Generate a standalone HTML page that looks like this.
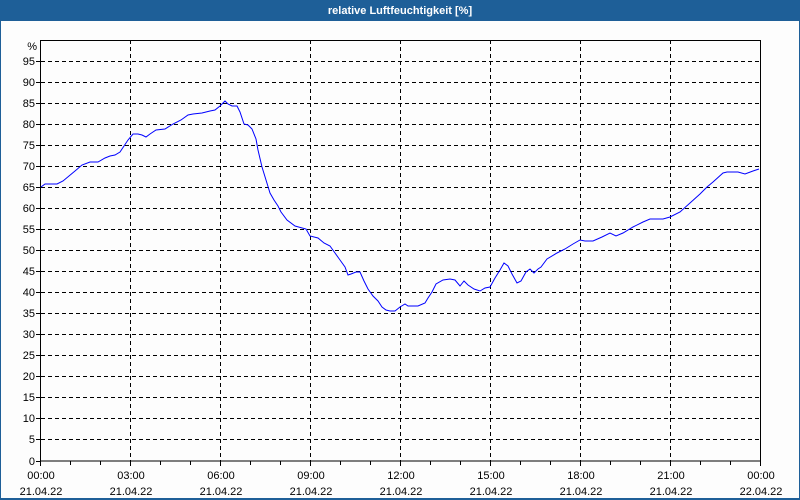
<!DOCTYPE html>
<html><head><meta charset="utf-8"><style>
html,body{margin:0;padding:0;background:#fff}
svg{display:block}
text{font-family:"Liberation Sans",sans-serif;font-size:11px;fill:#000}
</style></head><body>
<svg width="800" height="500" viewBox="0 0 800 500" xmlns="http://www.w3.org/2000/svg">
<rect x="0" y="0" width="800" height="500" fill="#1e5f98"/>
<rect x="1" y="21" width="798" height="477" fill="#fdfdfd"/>
<text x="400" y="14" text-anchor="middle" style="fill:#fff;font-weight:bold">relative Luftfeuchtigkeit [%]</text>
<g stroke="#000" stroke-width="1" stroke-dasharray="4,3" shape-rendering="crispEdges">
<line x1="41" y1="61.5" x2="760" y2="61.5"/><line x1="41" y1="82.5" x2="760" y2="82.5"/><line x1="41" y1="103.5" x2="760" y2="103.5"/><line x1="41" y1="124.5" x2="760" y2="124.5"/><line x1="41" y1="145.5" x2="760" y2="145.5"/><line x1="41" y1="166.5" x2="760" y2="166.5"/><line x1="41" y1="187.5" x2="760" y2="187.5"/><line x1="41" y1="208.5" x2="760" y2="208.5"/><line x1="41" y1="229.5" x2="760" y2="229.5"/><line x1="41" y1="250.5" x2="760" y2="250.5"/><line x1="41" y1="271.5" x2="760" y2="271.5"/><line x1="41" y1="292.5" x2="760" y2="292.5"/><line x1="41" y1="313.5" x2="760" y2="313.5"/><line x1="41" y1="334.5" x2="760" y2="334.5"/><line x1="41" y1="355.5" x2="760" y2="355.5"/><line x1="41" y1="376.5" x2="760" y2="376.5"/><line x1="41" y1="397.5" x2="760" y2="397.5"/><line x1="41" y1="418.5" x2="760" y2="418.5"/><line x1="41" y1="439.5" x2="760" y2="439.5"/>
<line x1="130.5" y1="40" x2="130.5" y2="461"/><line x1="220.5" y1="40" x2="220.5" y2="461"/><line x1="310.5" y1="40" x2="310.5" y2="461"/><line x1="400.5" y1="40" x2="400.5" y2="461"/><line x1="490.5" y1="40" x2="490.5" y2="461"/><line x1="580.5" y1="40" x2="580.5" y2="461"/><line x1="670.5" y1="40" x2="670.5" y2="461"/>
</g>
<g stroke="#000" stroke-width="1" shape-rendering="crispEdges" fill="none">
<rect x="40.5" y="40.5" width="720" height="420.5"/>
<path d="M36 61.5h5M36 82.5h5M36 103.5h5M36 124.5h5M36 145.5h5M36 166.5h5M36 187.5h5M36 208.5h5M36 229.5h5M36 250.5h5M36 271.5h5M36 292.5h5M36 313.5h5M36 334.5h5M36 355.5h5M36 376.5h5M36 397.5h5M36 418.5h5M36 439.5h5M36 461.5h5"/>
<path d="M40.5 461v5M70.5 461v4M100.5 461v4M130.5 461v5M160.5 461v4M190.5 461v4M220.5 461v5M250.5 461v4M280.5 461v4M310.5 461v5M340.5 461v4M370.5 461v4M400.5 461v5M430.5 461v4M460.5 461v4M490.5 461v5M520.5 461v4M550.5 461v4M580.5 461v5M610.5 461v4M640.5 461v4M670.5 461v5M700.5 461v4M730.5 461v4M760.5 461v5"/>
</g>
<g text-anchor="end">
<text x="37" y="50">%</text>
<text x="35" y="65">95</text><text x="35" y="86">90</text><text x="35" y="107">85</text><text x="35" y="128">80</text><text x="35" y="149">75</text><text x="35" y="170">70</text><text x="35" y="191">65</text><text x="35" y="212">60</text><text x="35" y="233">55</text><text x="35" y="254">50</text><text x="35" y="275">45</text><text x="35" y="296">40</text><text x="35" y="317">35</text><text x="35" y="338">30</text><text x="35" y="359">25</text><text x="35" y="380">20</text><text x="35" y="401">15</text><text x="35" y="422">10</text><text x="35" y="443">5</text><text x="35" y="465">0</text>
</g>
<g text-anchor="middle">
<text x="41" y="479">00:00</text><text x="41" y="495">21.04.22</text>
<text x="131" y="479">03:00</text><text x="131" y="495">21.04.22</text>
<text x="221" y="479">06:00</text><text x="221" y="495">21.04.22</text>
<text x="311" y="479">09:00</text><text x="311" y="495">21.04.22</text>
<text x="401" y="479">12:00</text><text x="401" y="495">21.04.22</text>
<text x="491" y="479">15:00</text><text x="491" y="495">21.04.22</text>
<text x="581" y="479">18:00</text><text x="581" y="495">21.04.22</text>
<text x="671" y="479">21:00</text><text x="671" y="495">21.04.22</text>
<text x="761" y="479">00:00</text><text x="761" y="495">22.04.22</text>
</g>
<polyline fill="none" stroke="#0000ff" stroke-width="1" points="41,187 45,184 57,184 63,181 75,171 82,165 90,162 98,162 105,158 110,156 115,155 120,152 124,146 128,140 133,134 138,134 142,135 146,137 150,134 156,130 165,129 173,124 181,120 188,115 193,114 202,113 210,111 215,110 220,106 223,103 225,101 228,104 232,106 237,106 240,112 244,124 248,125 252,129 256,139 258,150 262,167 266,180 270,193 274,200 278,206 281,212 287,220 295,226 306,229 310,236 318,238 324,243 330,246 335,253 340,260 345,267 348,275 351,274 356,272 360,272 364,281 368,289 373,296 378,301 382,307 386,310 390,311 395,311 400,307 405,304 408,306 418,306 425,303 428,298 432,292 436,284 443,280 450,279 455,280 460,286 464,281 468,285 474,289 480,291 485,288 490,287 495,278 500,270 504,263 508,266 512,274 517,283 521,281 526,272 530,269 534,273 538,269 541,267 547,259 557,253 565,249 573,244 580,240 585,241 593,241 602,237 610,233 616,236 623,233 633,227 643,222 650,219 663,219 670,217 680,212 690,203 700,194 707,187 713,182 723,173 727,172 738,172 745,174 753,171 759,169"/>
</svg>
</body></html>
